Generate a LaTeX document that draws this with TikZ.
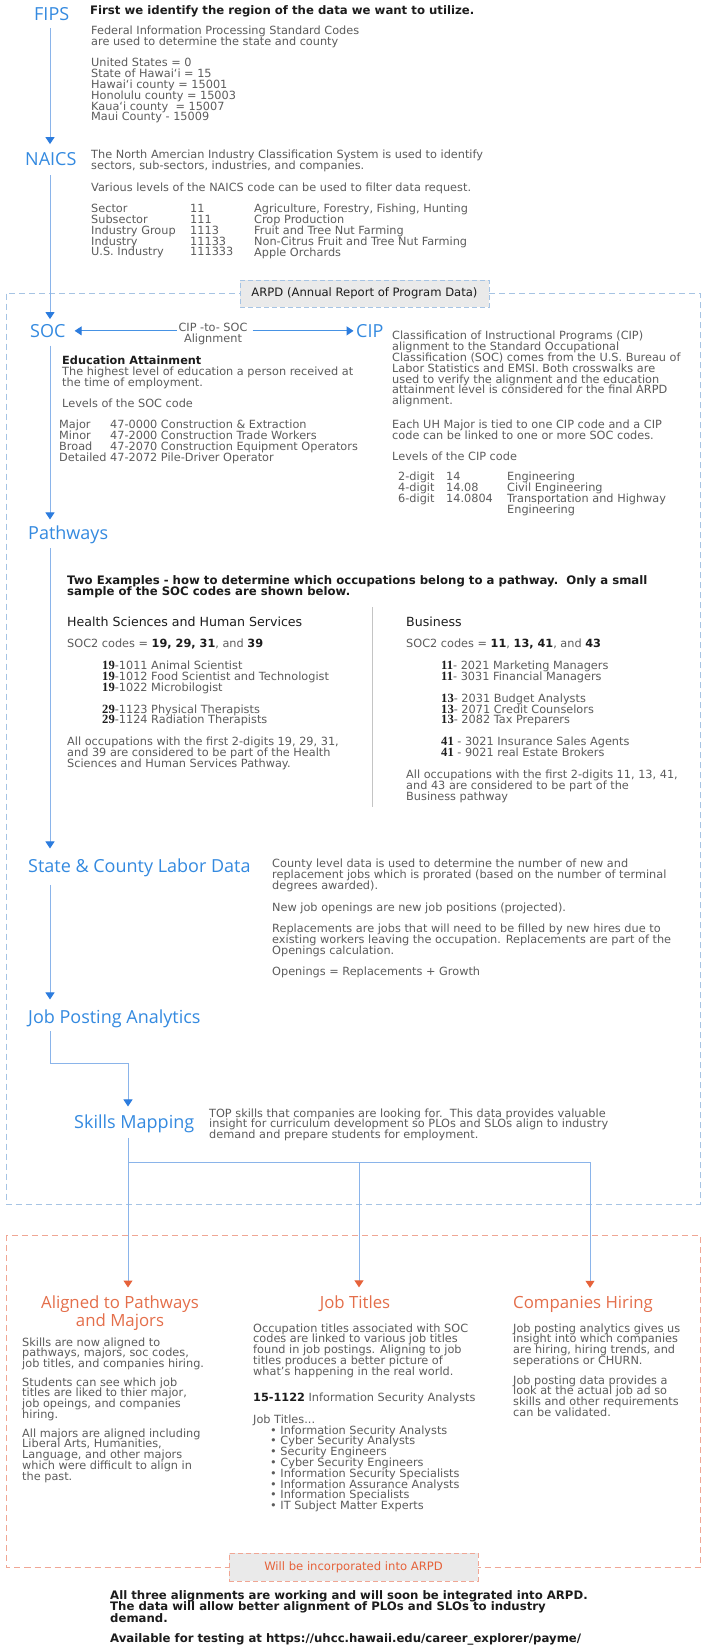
\documentclass[tikz,border=0pt]{standalone}
\usepackage{fontspec}
\setmainfont{DejaVu Sans}
\newfontfamily\headfont{Open Sans}
\newfontfamily\codefont{Liberation Serif}
\usetikzlibrary{arrows.meta,calc}
\lineskiplimit=-30pt

\definecolor{headblue}{RGB}{52,138,224}
\definecolor{wireblue}{RGB}{138,180,234}
\definecolor{tipblue}{RGB}{44,124,222}
\definecolor{linkblue}{RGB}{70,146,228}
\definecolor{frameblue}{RGB}{166,196,228}
\definecolor{inkgray}{RGB}{92,92,92}
\definecolor{inkdark}{RGB}{28,28,28}
\definecolor{headorange}{RGB}{228,110,74}
\definecolor{tiporange}{RGB}{230,98,58}
\definecolor{frameorange}{RGB}{240,166,148}
\definecolor{tagfill}{RGB}{234,234,234}
\definecolor{rulegray}{RGB}{196,196,196}

\newcommand\strongnum[1]{{\bfseries\color{inkdark}#1}}
\newcommand\socnum[1]{{\codefont\bfseries\fontsize{12.6}{10.8}\selectfont\color{inkdark}#1}}

\tikzset{
  head/.style={anchor=base west, inner sep=0pt, text=headblue, font=\headfont\fontsize{18}{20}\selectfont},
  ohead/.style={anchor=base, inner sep=0pt, align=center, text=headorange, font=\headfont\fontsize{16.8}{18.5}\selectfont},
  body/.style={anchor=north west, inner sep=0pt, align=left, text=inkgray, font=\fontsize{11.3}{10.8}\selectfont, yshift=3.8pt, execute at begin node=\strut},
  lead/.style={body, text=inkdark, font=\bfseries\fontsize{11.7}{11}\selectfont},
  subhead/.style={body, text=inkdark, font=\fontsize{12.6}{13}\selectfont},
  flow/.style={draw=wireblue, line width=1pt, -{Triangle[width=9pt,length=7pt,color=tipblue]}},
  oflow/.style={draw=wireblue, line width=1pt, -{Triangle[width=9pt,length=7pt,color=tiporange]}},
  wire/.style={draw=wireblue, line width=1pt},
  hflow/.style={draw=linkblue, line width=1pt, -{Triangle[width=9pt,length=7pt,color=tipblue]}},
  tagbox/.style={fill=tagfill, line width=1pt, dash pattern=on 5pt off 3pt, minimum width=249pt, inner sep=0pt, font=\fontsize{11.6}{13}\selectfont},
  frame/.style={line width=1pt, dash pattern=on 6pt off 4pt},
}

\begin{document}
\begin{tikzpicture}[x=1pt,y=-1pt]
\useasboundingbox (0,0) rectangle (702,1652);
\fill[white] (0,0) rectangle (702,1652);
\coordinate (spine) at (50,0);

% ---------- frames ----------
\draw[frame, frameblue] (6.5,293.5) rectangle (700,1204);
\draw[frame, frameorange] (6.5,1235) rectangle (700,1567);
\node[tagbox, draw=frameblue, text=inkdark, minimum height=27pt] (arpd) at (364.5,293.5) {ARPD (Annual Report of Program Data)};
\node[tagbox, draw=frameorange, text=tiporange, minimum height=28pt] (incorp) at (353.5,1567) {Will be incorporated into ARPD};

% ---------- FIPS ----------
\node[head] (fips) at (34,20.3) {FIPS};
\node[lead] (fipslead) at (90,9) {First we identify the region of the data we want to utilize.};
\node[body] (fipsdesc) at (91,30) {Federal Information Processing Standard Codes\\are used to determine the state and county};
\node[body] (fipscodes) at (91,62) {United States = 0\\State of Hawaiʻi = 15\\Hawaiʻi county = 15001\\Honolulu county = 15003\\Kauaʻi county \ = 15007\\Maui County - 15009};

% ---------- NAICS ----------
\node[head] (naics) at (25,165.3) {NAICS};
\node[body] (naicsdesc) at (91,154) {The North Amercian Industry Classification System is used to identify\\sectors, sub-sectors, industries, and companies.};
\node[body] (naicsnote) at (91,187) {Various levels of the NAICS code can be used to filter data request.};
\node[body] (naicslvl) at (91,208) {Sector\\Subsector\\Industry Group\\Industry\\U.S. Industry};
\node[body] (naicsnum) at (190,208) {11\\111\\1113\\11133\\111333};
\node[body] (naicsname) at (254,208) {Agriculture, Forestry, Fishing, Hunting\\Crop Production\\Fruit and Tree Nut Farming\\Non-Citrus Fruit and Tree Nut Farming\\Apple Orchards};

% ---------- SOC / CIP ----------
\node[head] (soc) at (30,337.3) {SOC};
\node[head] (cip) at (356,337.3) {CIP};
\node[body, anchor=north, align=center] (xwalk) at (213,327) {CIP -to- SOC\\Alignment};
\node[lead, font=\bfseries\fontsize{11.3}{10.8}\selectfont] (eduhead) at (62,360) {Education Attainment};
\node[body] (edutext) at (62,371) {The highest level of education a person received at\\the time of employment.};
\node[body] (soclvl) at (62,403) {Levels of the SOC code};
\node[body] (soclbl) at (59,424) {Major\\Minor\\Broad\\Detailed};
\node[body] (soccode) at (110,424) {47-0000 Construction \& Extraction\\47-2000 Construction Trade Workers\\47-2070 Construction Equipment Operators\\47-2072 Pile-Driver Operator};
\node[body] (cipdesc) at (392,335) {Classification of Instructional Programs (CIP)\\alignment to the Standard Occupational\\Classification (SOC) comes from the U.S. Bureau of\\Labor Statistics and EMSI. Both crosswalks are\\used to verify the alignment and the education\\attainment level is considered for the final ARPD\\alignment.};
\node[body] (cipmajor) at (392,424) {Each UH Major is tied to one CIP code and a CIP\\code can be linked to one or more SOC codes.};
\node[body] (ciplvl) at (392,456) {Levels of the CIP code};
\node[body] (cipdig) at (398,476) {2-digit\\4-digit\\6-digit};
\node[body] (cipnum) at (446,476) {14\\14.08\\14.0804};
\node[body] (cipname) at (507,476) {Engineering\\Civil Engineering\\Transportation and Highway\\Engineering};

% ---------- Pathways ----------
\node[head] (path) at (28,539.3) {Pathways};
\node[lead] (twoex) at (67,579) {Two Examples - how to determine which occupations belong to a pathway.\ \ Only a small\\sample of the SOC codes are shown below.};
\draw[rulegray, line width=1pt] (372,607) -- (372,807);
\node[subhead] (hshead) at (67,621) {Health Sciences and Human Services};
\node[body] (hssoc) at (67,643) {SOC2 codes = \strongnum{19, 29, 31}, and \strongnum{39}};
\node[body] (hsitems) at (102,665) {\socnum{19}-1011 Animal Scientist\\\socnum{19}-1012 Food Scientist and Technologist\\\socnum{19}-1022 Microbilogist\\[10.8pt]\socnum{29}-1123 Physical Therapists\\\socnum{29}-1124 Radiation Therapists};
\node[body] (hsnote) at (67,741) {All occupations with the first 2-digits 19, 29, 31,\\and 39 are considered to be part of the Health\\Sciences and Human Services Pathway.};
\node[subhead] (bushead) at (406,621) {Business};
\node[body] (bussoc) at (406,643) {SOC2 codes = \strongnum{11}, \strongnum{13, 41}, and \strongnum{43}};
\node[body] (busitems) at (441,665) {\socnum{11}- 2021 Marketing Managers\\\socnum{11}- 3031 Financial Managers\\[10.8pt]\socnum{13}- 2031 Budget Analysts\\\socnum{13}- 2071 Credit Counselors\\\socnum{13}- 2082 Tax Preparers\\[10.8pt]\socnum{41} - 3021 Insurance Sales Agents\\\socnum{41} - 9021 real Estate Brokers};
\node[body] (busnote) at (406,774) {All occupations with the first 2-digits 11, 13, 41,\\and 43 are considered to be part of the\\Business pathway};

% ---------- Labor data, postings, skills ----------
\node[head] (state) at (28,872.3) {State \& County Labor Data};
\node[body] (statetext) at (272,863) {County level data is used to determine the number of new and\\replacement jobs which is prorated (based on the number of terminal\\degrees awarded).\\[10.8pt]New job openings are new job positions (projected).\\[10.8pt]Replacements are jobs that will need to be filled by new hires due to\\existing workers leaving the occupation. Replacements are part of the\\Openings calculation.\\[10.8pt]Openings = Replacements + Growth};
\node[head] (jobpost) at (28,1023.3) {Job Posting Analytics};
\node[head] (skills) at (74,1128.3) {Skills Mapping};
\node[body] (skilltext) at (209,1112) {TOP skills that companies are looking for.\ \ This data provides valuable\\insight for curriculum development so PLOs and SLOs align to industry\\demand and prepare students for employment.};

% ---------- alignment outcomes ----------
\node[ohead, anchor=north] (alignT) at (120,1295.5) {Aligned to Pathways\\and Majors};
\node[ohead] (jobT) at (355,1308.3) {Job Titles};
\node[ohead] (compT) at (583,1308.3) {Companies Hiring};

\node[body] (alignA) at (22,1341) {Skills are now aligned to\\pathways, majors, soc codes,\\job titles, and companies hiring.};
\node[body] (alignB) at (22,1381) {Students can see which job\\titles are liked to thier major,\\job opeings, and companies\\hiring.};
\node[body] (alignC) at (22,1432) {All majors are aligned including\\Liberal Arts, Humanities,\\Language, and other majors\\which were difficult to align in\\the past.};

\node[body] (jobA) at (253,1327) {Occupation titles associated with SOC\\codes are linked to various job titles\\found in job postings. Aligning to job\\titles produces a better picture of\\what’s happening in the real world.};
\node[body] (jobB) at (253,1396) {\strongnum{15-1122} Information Security Analysts};
\node[body] (jobC) at (253,1418) {Job Titles...};
\node[body] (jobD) at (270,1429) {•~Information Security Analysts\\•~Cyber Security Analysts\\•~Security Engineers\\•~Cyber Security Engineers\\•~Information Security Specialists\\•~Information Assurance Analysts\\•~Information Specialists\\•~IT Subject Matter Experts};

\node[body] (compA) at (513,1327) {Job posting analytics gives us\\insight into which companies\\are hiring, hiring trends, and\\seperations or CHURN.};
\node[body] (compB) at (513,1379) {Job posting data provides a\\look at the actual job ad so\\skills and other requirements\\can be validated.};

% ---------- closing note ----------
\node[lead, font=\bfseries\fontsize{11.7}{11.6}\selectfont] (summary) at (110,1594) {All three alignments are working and will soon be integrated into ARPD.\\The data will allow better alignment of PLOs and SLOs to industry\\demand.};
\node[lead] (testing) at (110,1637) {Available for testing at https://uhcc.hawaii.edu/career\_explorer/payme/};

% ---------- connectors ----------
\draw[flow] ($(fips.south -| spine)+(0,7.7)$) -- ($(naics.north -| spine)+(0,-8)$);
\draw[flow] ($(naics.south -| spine)+(0,9.5)$) -- ($(soc.north -| spine)+(0,-5)$);
\draw[flow] ($(soc.south -| spine)+(0,8)$) -- ($(path.north -| spine)+(0,-6)$);
\draw[flow] ($(path.south -| spine)+(0,4.5)$) -- ($(state.north -| spine)+(0,-10)$);
\draw[flow] ($(state.south -| spine)+(0,8)$) -- ($(jobpost.north -| spine)+(0,-10)$);
\coordinate (jpturn) at (50,1063);
\coordinate (skin) at (128,1063);
\draw[flow] ($(jobpost.south -| spine)+(0,3.5)$) -- (jpturn) -| ($(skills.north -| skin)+(0,-8)$);

\draw[hflow, shorten <=1.5pt, shorten >=9pt] (xwalk.west |- soc.east) -- (soc.east);
\draw[hflow, shorten <=5pt, shorten >=2.5pt] (xwalk.east |- cip.west) -- (cip.west);

\coordinate (brL) at (128,1162);
\coordinate (brM) at (359,1162);
\coordinate (brR) at (590,1162);
\draw[wire] ($(skills.south -| brL)+(0,5)$) -- (brL);
\draw[wire] (brL) -- (brR);
\draw[oflow] (brL) -- ($(alignT.north -| brL)+(0,-8)$);
\draw[oflow] (brM) -- ($(jobT.north -| brM)+(0,-8)$);
\draw[oflow] (brR) -- ($(compT.north -| brR)+(0,-8)$);
\end{tikzpicture}
\end{document}
